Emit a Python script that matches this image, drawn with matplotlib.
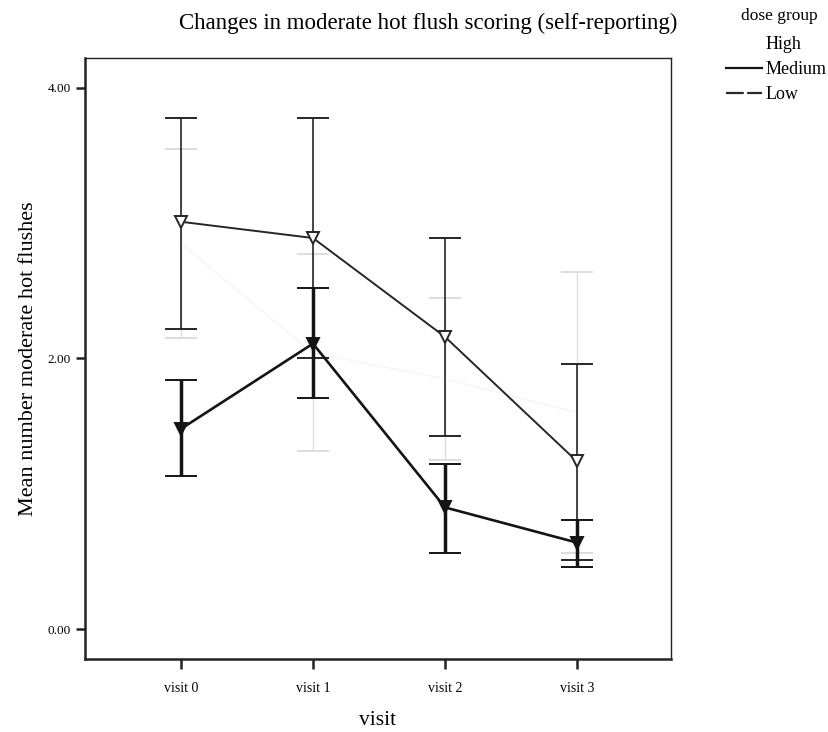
import matplotlib
matplotlib.use("Agg")
import matplotlib.pyplot as plt
from matplotlib.lines import Line2D

visits = ["visit 0", "visit 1", "visit 2", "visit 3"]
groups = ["High", "Medium", "Low"]

# group means and 95% CI bounds
high_mean = [2.85, 2.04, 1.85, 1.60]
high_upper = [3.55, 2.77, 2.45, 2.64]
high_lower = [2.15, 1.32, 1.25, 0.56]

medium_mean = [1.48, 2.11, 0.90, 0.64]
medium_upper = [1.84, 2.52, 1.22, 0.81]
medium_lower = [1.13, 1.71, 0.56, 0.46]

low_mean = [3.01, 2.89, 2.16, 1.24]
low_upper = [3.78, 3.78, 2.89, 1.96]
low_lower = [2.22, 2.00, 1.43, 0.51]

yticks = [0, 2, 4]
ytick_labels = ["0.00", "2.00", "4.00"]

plt.rcParams["font.family"] = ["Liberation Serif", "DejaVu Serif"]

fig = plt.figure(figsize=(8.29, 7.32), dpi=100)
ax = fig.add_axes([0.1025, 0.0997, 0.7069, 0.8211])

x = list(range(len(visits)))


def draw_group(mean, lower, upper, color, ecolor, lw, elw, marker, mfc, ms, zorder):
    yerr = [[m - lo for m, lo in zip(mean, lower)],
            [up - m for m, up in zip(mean, upper)]]
    ax.errorbar(x, mean, yerr=yerr, color=color, ecolor=ecolor, lw=lw,
                elinewidth=elw, capsize=11.5, capthick=elw, marker=marker,
                ms=ms, mfc=mfc, mec=color, mew=1.4, zorder=zorder)


draw_group(high_mean, high_lower, high_upper, "#f5f5f5", "#dddddd",
           1.0, 1.0, None, "none", 0, 1)
draw_group(low_mean, low_lower, low_upper, "#262626", "#262626",
           1.4, 1.2, "v", "white", 8, 2)
draw_group(medium_mean, medium_lower, medium_upper, "#141414", "#141414",
           1.9, 2.5, "v", "#141414", 8.5, 3)

ax.set_xlim(-0.727, 3.712)
ax.set_ylim(-0.22, 4.22)
ax.set_xticks(x)
ax.set_xticklabels(visits, fontsize=10)
ax.set_yticks(yticks)
ax.set_yticklabels(ytick_labels, fontsize=9.5)
ax.tick_params(axis="x", direction="out", length=7.2, width=1.8,
               color="#222222", pad=9)
ax.tick_params(axis="y", direction="out", length=6.5, width=1.8,
               color="#222222", pad=3.5)
for side, sp in ax.spines.items():
    sp.set_color("#222222")
    sp.set_linewidth(1.8 if side in ("left", "bottom") else 1.0)

ax.set_xlabel("visit", fontsize=15.5, labelpad=12)
ax.set_ylabel("Mean number moderate hot flushes", fontsize=16)
ax.yaxis.set_label_coords(-0.080, 0.5)
fig.text(0.516, 0.968, "Changes in moderate hot flush scoring (self-reporting)",
         ha="center", va="center", fontsize=16.5)

# legend title and entries
fig.text(779 / 829, 1 - 16 / 732, "dose group", ha="center", va="center",
         fontsize=12.5)
handles = [
    Line2D([], [], color="white", lw=1.5),
    Line2D([], [], color="#151515", lw=1.6),
    Line2D([], [], color="#2a2a2a", lw=1.6, ls=(0, (8, 1.5))),
]
leg = fig.legend(handles, groups, loc="upper left",
                 bbox_to_anchor=(0.876, 1 - 36 / 732), frameon=False,
                 fontsize=13, handlelength=2.0, handletextpad=0.15,
                 labelspacing=0.45, borderpad=0, borderaxespad=0)

fig.savefig("out.png", dpi=100)
